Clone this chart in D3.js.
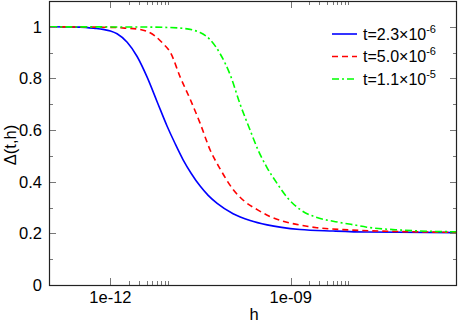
<!DOCTYPE html>
<html><head><meta charset="utf-8">
<script src="https://cdn.jsdelivr.net/npm/d3@7/dist/d3.min.js"></script>
<style>body{margin:0;background:#fff}svg{display:block}text{font-family:"Liberation Sans",Arial,sans-serif}</style>
</head><body><svg id="c" width="459" height="322"></svg>
<script>
// ---- data ----
const seriesLabels = [["t=2.3\u00d710","-6"],["t=5.0\u00d710","-6"],["t=1.1\u00d710","-5"]];
const hBlue = [1e-13,3.13e-13,5.56e-13,7.56e-13,1e-12,1.29e-12,1.9e-12,2.78e-12,4.08e-12,5.98e-12,8.78e-12,1.19e-11,1.62e-11,2.2e-11,3.11e-11,4.23e-11,5.97e-11,1.1e-10,2.11e-10,4.05e-10,1.43e-9,5.08e-9,1.87e-8,6e-7];
const dBlue = [1.0,0.999,0.994,0.99,0.984,0.973,0.94,0.885,0.805,0.71,0.615,0.548,0.485,0.433,0.383,0.347,0.316,0.276,0.25,0.233,0.215,0.209,0.205,0.203];
const hRed = [1e-13,1e-12,1.76e-12,3.1e-12,5.5e-12,7.5e-12,1e-11,1.45e-11,2.12e-11,3.1e-11,4.56e-11,6.68e-11,1.1e-10,1.75e-10,2.86e-10,4.54e-10,7.48e-10,1.44e-9,2.72e-9,1e-8,6.6e-8,6e-7];
const dRed = [1.0,0.998,0.995,0.99,0.965,0.935,0.90,0.805,0.72,0.627,0.523,0.45,0.37,0.322,0.29,0.265,0.247,0.232,0.222,0.213,0.207,0.204];
const hGreen = [1e-13,4.58e-12,1.45e-11,3.1e-11,4.56e-11,6.68e-11,1e-10,1.44e-10,2.11e-10,2.86e-10,4.03e-10,5.87e-10,9.05e-10,1.44e-9,2.65e-9,5.08e-9,1e-8,1.85e-8,6.6e-8,2.08e-7,6e-7];
const dGreen = [1.0,0.999,0.995,0.978,0.95,0.896,0.81,0.70,0.60,0.523,0.455,0.395,0.335,0.292,0.262,0.247,0.235,0.224,0.213,0.208,0.206];
const yTicks = [0,0.2,0.4,0.6,0.8,1];
const yMinor = [0.1,0.3,0.5,0.7,0.9];
const xTicks = [1e-12,1e-9];
const xTickLabels = ["1e-12","1e-09"];
const xMinor = [2e-12,3e-12,4e-12,5e-12,6e-12,7e-12,8e-12,9e-12,2e-9,3e-9,4e-9,5e-9,6e-9,7e-9,8e-9,9e-9];

const L=49,R=457,T=1,B=285;
const svg=d3.select("#c");
const x=d3.scaleLog().domain([9.5e-14,5.85e-7]).range([L,R]);
const y=d3.scaleLinear().domain([0,1.1]).range([B,T]);

const series=[
 {h:hBlue,d:dBlue,color:"#0000ff",dash:null},
 {h:hRed,d:dRed,color:"#ff0000",dash:"6,4"},
 {h:hGreen,d:dGreen,color:"#00ff00",dash:"7,3,2,3"}
];
svg.append("clipPath").attr("id","cp").append("rect").attr("x",L).attr("y",T).attr("width",R-L).attr("height",B-T);
const line=d3.line().x(p=>x(p[0])).y(p=>y(p[1])).curve(d3.curveMonotoneX);
[0,1,2].forEach(i=>{
  const s=series[i];
  svg.append("path").attr("clip-path","url(#cp)").attr("d",line(s.h.map((h,j)=>[h,s.d[j]])))
    .attr("fill","none").attr("stroke",s.color).attr("stroke-width",1.6)
    .attr("stroke-dasharray",s.dash);
});

// ticks
const tc="#777";
const g=svg.append("g").attr("stroke",tc).attr("stroke-width",1);
yTicks.forEach(v=>{const yy=Math.round(y(v))+0.5;
  g.append("line").attr("x1",L).attr("x2",L+7).attr("y1",yy).attr("y2",yy);
  g.append("line").attr("x1",R-7).attr("x2",R).attr("y1",yy).attr("y2",yy);});
yMinor.forEach(v=>{const yy=Math.round(y(v))+0.5;
  g.append("line").attr("x1",L).attr("x2",L+4).attr("y1",yy).attr("y2",yy);
  g.append("line").attr("x1",R-4).attr("x2",R).attr("y1",yy).attr("y2",yy);});
xTicks.forEach(v=>{const xx=Math.round(x(v))+0.5;
  g.append("line").attr("x1",xx).attr("x2",xx).attr("y1",B).attr("y2",B-7);
  g.append("line").attr("x1",xx).attr("x2",xx).attr("y1",T).attr("y2",T+7);});
xMinor.forEach(v=>{const xx=Math.round(x(v))+0.5;
  g.append("line").attr("x1",xx).attr("x2",xx).attr("y1",B).attr("y2",B-4);
  g.append("line").attr("x1",xx).attr("x2",xx).attr("y1",T).attr("y2",T+4);});

// frame
svg.append("rect").attr("x",L+0.5).attr("y",T+0.5).attr("width",R-L-1).attr("height",B-T)
  .attr("fill","none").attr("stroke","#222").attr("stroke-width",1.2);

// labels
const fs=16.5;
yTicks.forEach(v=>svg.append("text").attr("x",42).attr("y",y(v)).attr("dy","0.36em")
  .attr("text-anchor","end").attr("font-size",fs).text(d3.format("~g")(v)));
xTicks.forEach((v,i)=>svg.append("text").attr("x",x(v)).attr("y",303)
  .attr("text-anchor","middle").attr("font-size",fs).text(xTickLabels[i]));
svg.append("text").attr("x",(L+R)/2+1).attr("y",320).attr("text-anchor","middle").attr("font-size",fs).text("h");
svg.append("text").attr("transform",`translate(16,${(T+B)/2+2}) rotate(-90)`).attr("text-anchor","middle")
  .attr("font-size",fs).text("\u0394(t,h)");

// legend
const ly=[34,56.5,79];
series.forEach((s,i)=>{
  svg.append("line").attr("x1",332).attr("x2",357).attr("y1",ly[i]).attr("y2",ly[i])
    .attr("stroke",s.color).attr("stroke-width",1.6).attr("stroke-dasharray",s.dash);
  const t=svg.append("text").attr("x",363).attr("y",ly[i]+5.5).attr("font-size",16);
  t.append("tspan").text(seriesLabels[i][0]);
  t.append("tspan").attr("font-size",11).attr("dy",-7).text(seriesLabels[i][1]);
});
</script></body></html>
